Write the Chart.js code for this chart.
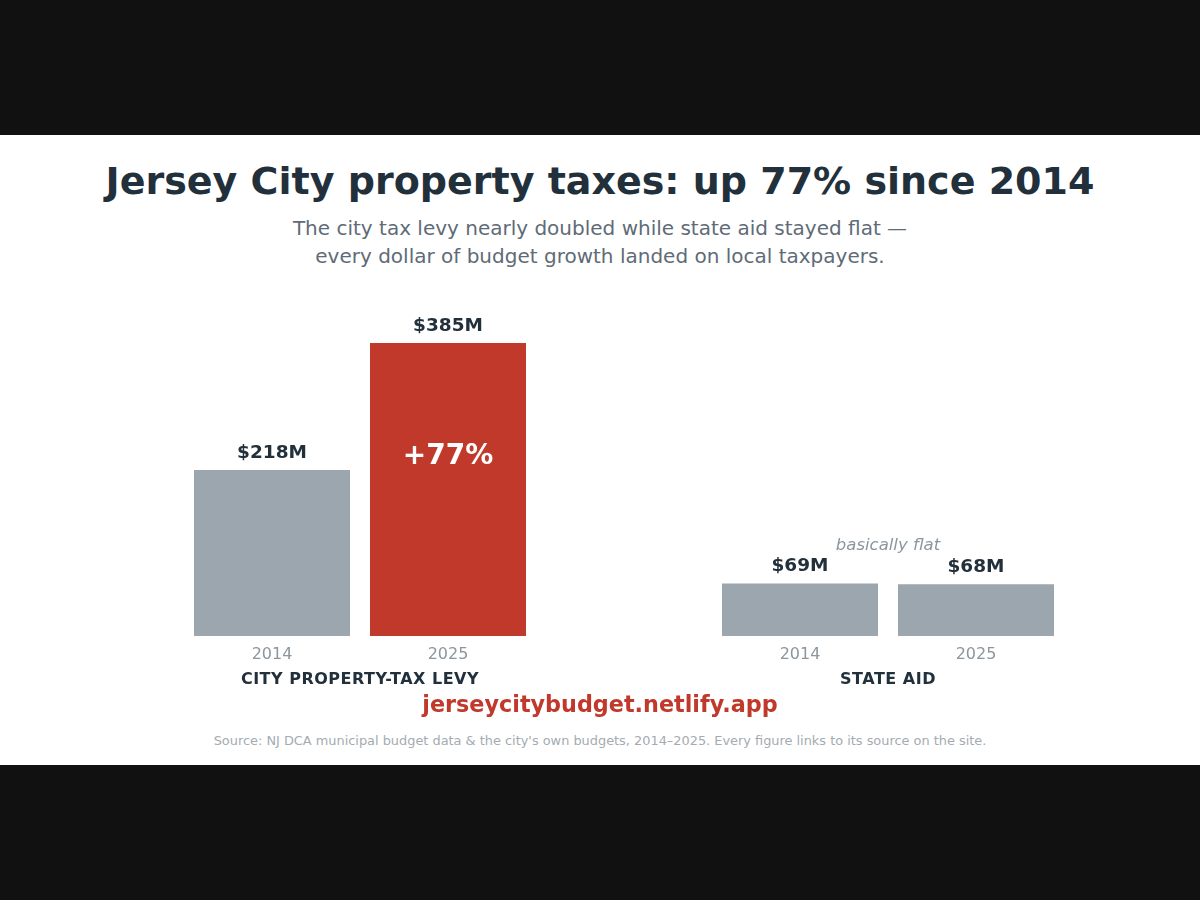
<!DOCTYPE html>
<html>
<head>
<meta charset="utf-8">
<script src="https://cdn.jsdelivr.net/npm/chart.js@4"></script>
<style>
  html, body { margin: 0; padding: 0; background: #111; }
  body { width: 1200px; height: 900px; position: relative; overflow: hidden; font-family: "DejaVu Sans", sans-serif; }
  .panel { position: absolute; left: 0; top: 135px; width: 1200px; height: 630px; background: #fff; }
  h1 { position: absolute; left: 0; width: 1200px; top: 158px; margin: 0; text-align: center; font-size: 38px; line-height: 46px; font-weight: bold; color: #22303c; }
  .sub { position: absolute; left: 0; width: 1200px; top: 214px; text-align: center; font-size: 20px; line-height: 28px; color: #5f6b76; }
  .url { position: absolute; left: 0; width: 1200px; top: 690px; text-align: center; font-size: 22.3px; line-height: 28px; font-weight: bold; color: #c0392b; }
  .src { position: absolute; left: 0; width: 1200px; top: 732px; text-align: center; font-size: 12.9px; line-height: 18px; color: #a4abb1; }
  #wrap { position: absolute; left: 0; top: 290px; width: 1200px; height: 420px; }
</style>
</head>
<body>
<div class="panel"></div>
<h1>Jersey City property taxes: up 77% since 2014</h1>
<div class="sub">The city tax levy nearly doubled while state aid stayed flat —<br>every dollar of budget growth landed on local taxpayers.</div>
<div id="wrap"><canvas id="chart1"></canvas></div>
<div class="url">jerseycitybudget.netlify.app</div>
<div class="src">Source: NJ DCA municipal budget data &amp; the city's own budgets, 2014–2025. Every figure links to its source on the site.</div>
<script>
// one empty slot in the middle separates the two groups
const years = ["2014", "2025", "", "2014", "2025"];
const values = [218, 385, null, 69, 68];
const valueLabels = ["$218M", "$385M", "", "$69M", "$68M"];
const groups = ["CITY PROPERTY-TAX LEVY", "STATE AID"];

const gray = "#9ca6ae";
const red = "#c0392b";

const labelsPlugin = {
  id: "labels",
  afterDatasetsDraw(chart) {
    const ctx = chart.ctx;
    const x = chart.scales.x;
    const y = chart.scales.y;
    const bottom = y.getPixelForValue(0);
    ctx.save();
    ctx.textAlign = "center";
    ctx.textBaseline = "alphabetic";

    values.forEach((v, i) => {
      if (v == null) return;
      const px = x.getPixelForValue(i);
      const top = y.getPixelForValue(v);
      ctx.fillStyle = "#22303c";
      ctx.font = "bold 18.5px 'DejaVu Sans'";
      ctx.fillText(valueLabels[i], px, top - 12);
      ctx.fillStyle = "#8c969e";
      ctx.font = "16px 'DejaVu Sans'";
      ctx.fillText(years[i], px, bottom + 23);
    });

    // +77% inside the red bar
    const redTop = y.getPixelForValue(values[1]);
    ctx.fillStyle = "#fff";
    ctx.font = "bold 28px 'DejaVu Sans'";
    ctx.fillText("+77%", x.getPixelForValue(1), redTop + 121);

    // group names
    ctx.fillStyle = "#22303c";
    ctx.font = "bold 16px 'DejaVu Sans'";
    ctx.letterSpacing = "0.5px";
    ctx.fillText(groups[0], (x.getPixelForValue(0) + x.getPixelForValue(1)) / 2, bottom + 48);
    ctx.fillText(groups[1], (x.getPixelForValue(3) + x.getPixelForValue(4)) / 2, bottom + 48);
    ctx.letterSpacing = "0px";

    // note above state aid
    ctx.fillStyle = "#8c969e";
    ctx.font = "italic 16.5px 'DejaVu Sans'";
    ctx.fillText("basically flat", (x.getPixelForValue(3) + x.getPixelForValue(4)) / 2, bottom - 86);
    ctx.restore();
  },
};

new Chart(document.getElementById("chart1").getContext("2d"), {
  type: "bar",
  data: {
    labels: years,
    datasets: [
      {
        data: values,
        backgroundColor: [gray, red, gray, gray, gray],
        borderWidth: 0,
        categoryPercentage: 1,
        barPercentage: 156 / 176,
      },
    ],
  },
  options: {
    responsive: true,
    maintainAspectRatio: false,
    animation: false,
    layout: {
      padding: { left: 184, right: 136, top: 41.6, bottom: 74 },
    },
    plugins: {
      legend: { display: false },
      tooltip: { enabled: false },
    },
    scales: {
      x: { display: false },
      y: { display: false, min: 0, max: 400 },
    },
  },
  plugins: [labelsPlugin],
});
</script>
</body>
</html>
